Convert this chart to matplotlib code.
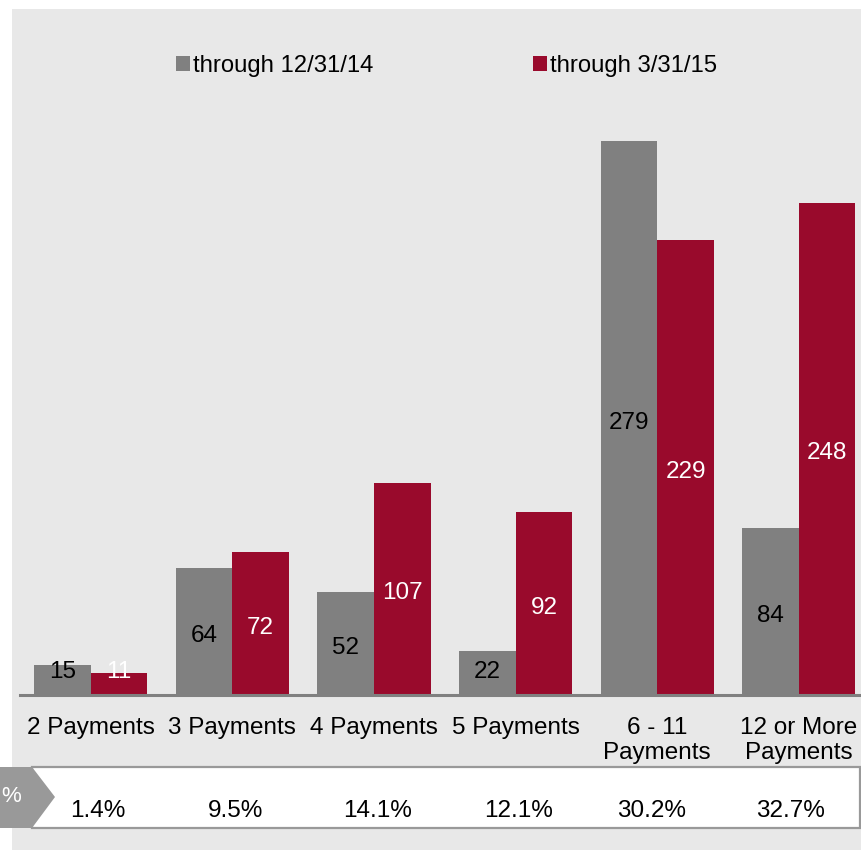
import numpy as np
import matplotlib.pyplot as plt
from matplotlib.patches import Rectangle, Polygon

plt.rcParams['font.family'] = ['Liberation Sans', 'DejaVu Sans']

# Chart data
categories = ['2 Payments', '3 Payments', '4 Payments', '5 Payments',
              '6 - 11\nPayments', '12 or More\nPayments']
series_names = ['through 12/31/14', 'through 3/31/15']
values_2014 = [15, 64, 52, 22, 279, 84]
values_2015 = [11, 72, 107, 92, 229, 248]
pct_labels = ['1.4%', '9.5%', '14.1%', '12.1%', '30.2%', '32.7%']

# layout of the percent row (pixel centres)
pct_x_px = [98, 236, 378, 519, 652, 791]

gray = '#808080'
red = '#990A2C'
bg = '#E8E8E8'

W, H = 862, 851
fig = plt.figure(figsize=(W / 100, H / 100), dpi=100)


def fx(px):
    return px / W


def fy(py):
    return 1 - py / H


# Gray panel background
fig.patches.append(Rectangle((fx(12), fy(850)), fx(862 - 12), (850 - 9) / H,
                             transform=fig.transFigure, facecolor=bg,
                             edgecolor='none', zorder=-5))

ax = fig.add_axes([fx(20), fy(695), fx(842), 695 / H])
ax.set_facecolor('none')

x = np.arange(len(categories))
width = 0.4
bars1 = ax.bar(x - width / 2, values_2014, width, color=gray, label=series_names[0])
bars2 = ax.bar(x + width / 2, values_2015, width, color=red, label=series_names[1])


def label_y(v):
    # labels sit a bit below the bar middle, but never below the baseline
    return max(v / 2 - 2.3, 11.6)


for b, v in zip(bars1, values_2014):
    ax.text(b.get_x() + b.get_width() / 2, label_y(v), str(v), ha='center',
            va='center', fontsize=17.5, color='black')
for b, v in zip(bars2, values_2015):
    ax.text(b.get_x() + b.get_width() / 2, label_y(v), str(v), ha='center',
            va='center', fontsize=17.5, color='white')

ax.set_xlim(-0.5, 5.446)
ax.set_ylim(0, 350)
ax.set_yticks([])
ax.set_xticks(x)
ax.set_xticklabels(categories, fontsize=17.5, linespacing=1.15)
ax.tick_params(axis='x', length=0, pad=16)
for s in ['top', 'left', 'right']:
    ax.spines[s].set_visible(False)
ax.spines['bottom'].set_color(gray)
ax.spines['bottom'].set_linewidth(2.2)

ax.legend(ncol=2, loc='center', bbox_to_anchor=(0.5065, 0.905), frameon=False,
          fontsize=17.2, handlelength=0.59, handleheight=0.59,
          handletextpad=0.12, columnspacing=6.7)

# Percent row
fig.patches.append(Rectangle((fx(32), fy(828)), fx(860 - 32), (828 - 767) / H,
                             transform=fig.transFigure, facecolor='white',
                             edgecolor='#999999', linewidth=1.6, zorder=1))
fig.patches.append(Polygon([(fx(0), fy(767)), (fx(32), fy(767)),
                            (fx(55), fy(797)), (fx(32), fy(828)),
                            (fx(0), fy(828))],
                           closed=True, transform=fig.transFigure,
                           facecolor='#999999', edgecolor='none', zorder=2))
fig.text(fx(1), fy(797), '%', color='white', fontsize=16, ha='left',
         va='center', zorder=3)

for px, p in zip(pct_x_px, pct_labels):
    fig.text(fx(px), fy(811), p, ha='center', va='center',
             fontsize=17.5, color='black')

fig.savefig('out.png', dpi=100)
